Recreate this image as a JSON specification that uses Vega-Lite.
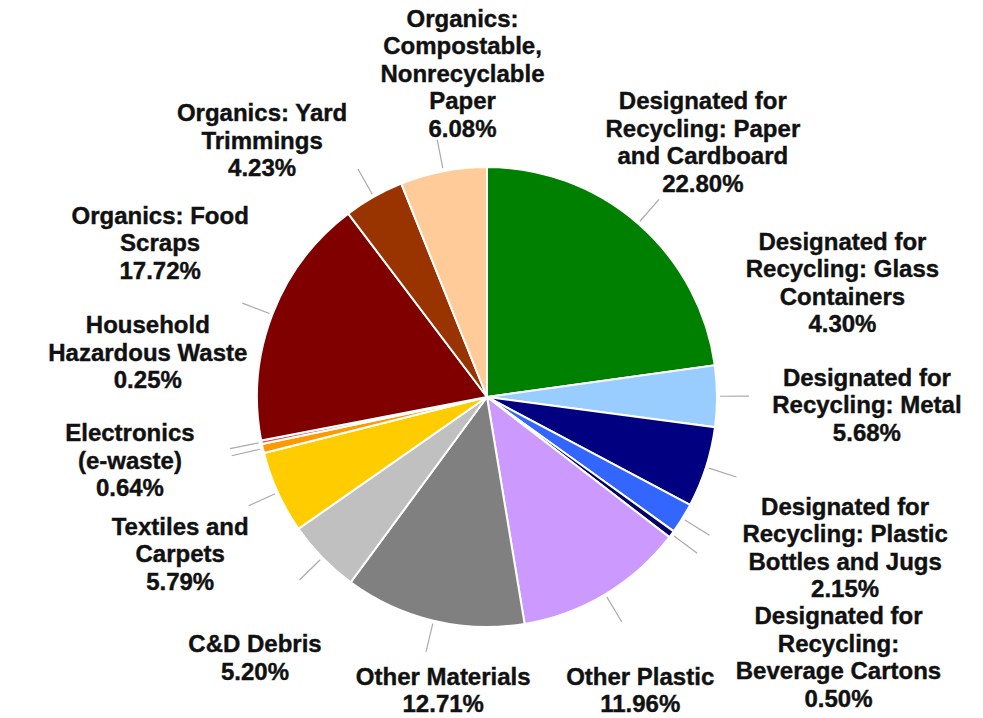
{
  "$schema": "https://vega.github.io/schema/vega-lite/v6.json",
  "width": 974,
  "height": 642,
  "autosize": "none",
  "padding": {"left": 0, "top": 76, "right": 9, "bottom": 0},
  "background": "white",
  "config": {"view": {"stroke": null}, "text": {"font": "Liberation Sans", "fontWeight": "bold", "fontSize": 24, "lineHeight": 27.5, "lineBreak": "\n", "color": "#111111", "stroke": "#111111", "strokeWidth": 0.4}},
  "data": {"values": [
    {"idx": 1, "name": "Designated for Recycling: Paper and Cardboard", "value": 22.80, "label": "Designated for\nRecycling: Paper\nand Cardboard\n22.80%"},
    {"idx": 2, "name": "Designated for Recycling: Glass Containers", "value": 4.30, "label": "Designated for\nRecycling: Glass\nContainers\n4.30%"},
    {"idx": 3, "name": "Designated for Recycling: Metal", "value": 5.68, "label": "Designated for\nRecycling: Metal\n5.68%"},
    {"idx": 4, "name": "Designated for Recycling: Plastic Bottles and Jugs", "value": 2.15, "label": "Designated for\nRecycling: Plastic\nBottles and Jugs\n2.15%"},
    {"idx": 5, "name": "Designated for Recycling: Beverage Cartons", "value": 0.50, "label": "Designated for\nRecycling:\nBeverage Cartons\n0.50%"},
    {"idx": 6, "name": "Other Plastic", "value": 11.96, "label": "Other Plastic\n11.96%"},
    {"idx": 7, "name": "Other Materials", "value": 12.71, "label": "Other Materials\n12.71%"},
    {"idx": 8, "name": "C&D Debris", "value": 5.20, "label": "C&D Debris\n5.20%"},
    {"idx": 9, "name": "Textiles and Carpets", "value": 5.79, "label": "Textiles and\nCarpets\n5.79%"},
    {"idx": 10, "name": "Electronics (e-waste)", "value": 0.64, "label": "Electronics\n(e-waste)\n0.64%"},
    {"idx": 11, "name": "Household Hazardous Waste", "value": 0.25, "label": "Household\nHazardous Waste\n0.25%"},
    {"idx": 12, "name": "Organics: Food Scraps", "value": 17.72, "label": "Organics: Food\nScraps\n17.72%"},
    {"idx": 13, "name": "Organics: Yard Trimmings", "value": 4.23, "label": "Organics: Yard\nTrimmings\n4.23%"},
    {"idx": 14, "name": "Organics: Compostable, Nonrecyclable Paper", "value": 6.08, "label": "Organics:\nCompostable,\nNonrecyclable\nPaper\n6.08%"}
  ]},
  "encoding": {
    "theta": {"field": "value", "type": "quantitative", "stack": true},
    "order": {"field": "idx", "type": "quantitative"}
  },
  "layer": [
    {
      "mark": {"type": "arc", "radius": 230, "stroke": "white", "strokeWidth": 2},
      "encoding": {
        "color": {
          "field": "name", "type": "nominal", "legend": null,
          "scale": {
            "domain": ["Designated for Recycling: Paper and Cardboard", "Designated for Recycling: Glass Containers", "Designated for Recycling: Metal", "Designated for Recycling: Plastic Bottles and Jugs", "Designated for Recycling: Beverage Cartons", "Other Plastic", "Other Materials", "C&D Debris", "Textiles and Carpets", "Electronics (e-waste)", "Household Hazardous Waste", "Organics: Food Scraps", "Organics: Yard Trimmings", "Organics: Compostable, Nonrecyclable Paper"],
            "range": ["#008000", "#99CCFF", "#000080", "#3366FF", "#000066", "#CC99FF", "#808080", "#C0C0C0", "#FFCC00", "#FF9900", "#F05050", "#800000", "#993300", "#FFCC99"]
          }
        }
      }
    },
    {
      "mark": {"type": "arc", "radius": 262, "radius2": 233, "padAngle": 1.2, "fill": null, "stroke": "#AAAAAA", "strokeWidth": 1.2}
    },
    {"mark": {"type": "text", "radius": 333, "thetaOffset": -0.011, "dy": -41},
     "encoding": {"text": {"condition": {"test": "datum.idx === 1", "field": "label"}, "value": ""}}},
    {"mark": {"type": "text", "radius": 373, "thetaOffset": -0.305, "dy": -41},
     "encoding": {"text": {"condition": {"test": "datum.idx === 2", "field": "label"}, "value": ""}}},
    {"mark": {"type": "text", "radius": 380, "thetaOffset": -0.287, "dy": -27},
     "encoding": {"text": {"condition": {"test": "datum.idx === 3", "field": "label"}, "value": ""}}},
    {"mark": {"type": "text", "radius": 389, "thetaOffset": -0.155, "dy": -41},
     "encoding": {"text": {"condition": {"test": "datum.idx === 4", "field": "label"}, "value": ""}}},
    {"mark": {"type": "text", "radius": 439, "thetaOffset": 0.003, "dy": -43},
     "encoding": {"text": {"condition": {"test": "datum.idx === 5", "field": "label"}, "value": ""}}},
    {"mark": {"type": "text", "radius": 335, "thetaOffset": 0.065, "dy": -17},
     "encoding": {"text": {"condition": {"test": "datum.idx === 6", "field": "label"}, "value": ""}}},
    {"mark": {"type": "text", "radius": 301, "thetaOffset": -0.089, "dy": -17},
     "encoding": {"text": {"condition": {"test": "datum.idx === 7", "field": "label"}, "value": ""}}},
    {"mark": {"type": "text", "radius": 350, "thetaOffset": -0.073, "dy": -14},
     "encoding": {"text": {"condition": {"test": "datum.idx === 8", "field": "label"}, "value": ""}}},
    {"mark": {"type": "text", "radius": 345, "thetaOffset": -0.047, "dy": -27},
     "encoding": {"text": {"condition": {"test": "datum.idx === 9", "field": "label"}, "value": ""}}},
    {"mark": {"type": "text", "radius": 363, "thetaOffset": 0.045, "dy": -28},
     "encoding": {"text": {"condition": {"test": "datum.idx === 10", "field": "label"}, "value": ""}}},
    {"mark": {"type": "text", "radius": 342, "thetaOffset": 0.326, "dy": -27},
     "encoding": {"text": {"condition": {"test": "datum.idx === 11", "field": "label"}, "value": ""}}},
    {"mark": {"type": "text", "radius": 361, "thetaOffset": 0.072, "dy": -27},
     "encoding": {"text": {"condition": {"test": "datum.idx === 12", "field": "label"}, "value": ""}}},
    {"mark": {"type": "text", "radius": 340, "thetaOffset": -0.208, "dy": -28},
     "encoding": {"text": {"condition": {"test": "datum.idx === 13", "field": "label"}, "value": ""}}},
    {"mark": {"type": "text", "radius": 323, "thetaOffset": 0.115, "dy": -55},
     "encoding": {"text": {"condition": {"test": "datum.idx === 14", "field": "label"}, "value": ""}}}
  ]
}
